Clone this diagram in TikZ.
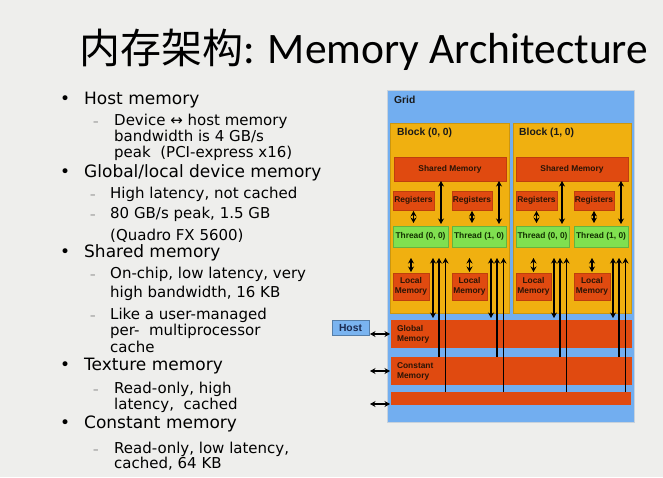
\documentclass[tikz,border=0pt]{standalone}
\usepackage{fontspec}
\setmainfont{DejaVu Sans}
\newfontfamily\titlefont{Carlito}
\newfontfamily\cjk{Noto Sans CJK SC}
\newfontfamily\diag{Liberation Sans}
\usetikzlibrary{arrows.meta}
\definecolor{bg}{HTML}{EEEEEC}
\definecolor{gridblue}{HTML}{72AEF0}
\definecolor{gridedge}{HTML}{C8D2DC}
\definecolor{blockor}{HTML}{F0B010}
\definecolor{memred}{HTML}{E04A10}
\definecolor{thrgreen}{HTML}{80E050}
\definecolor{hostblue}{HTML}{7AB4F0}
\definecolor{darktxt}{HTML}{2A1406}
\definecolor{greentxt}{HTML}{123000}
\definecolor{hosttxt}{HTML}{1A2A50}
\tikzset{
  box/.style={inner sep=0pt, outer sep=0pt, anchor=north west, font=\diag\bfseries\fontsize{8.4}{10}\selectfont, text=darktxt, align=center},
  memcell/.style={box, fill=memred, draw=memred!85!black, line width=0.4pt},
  thrcell/.style={box, fill=thrgreen, draw=thrgreen!80!black, line width=0.4pt, text=greentxt},
  bigmem/.style={box, fill=memred, align=left, text width=229pt, inner xsep=6pt},
  lbl/.style={inner sep=0pt, anchor=base west, font=\diag\bfseries\fontsize{10.3}{12}\selectfont, text=black!90},
  main/.style={inner sep=0pt, anchor=base west, font=\fontsize{17}{20}\selectfont},
  sub/.style={inner sep=0pt, anchor=base west, font=\fontsize{15}{18}\selectfont},
  bul/.style={inner sep=0pt, anchor=base west, font=\fontsize{17}{20}\selectfont},
  dsh/.style={inner sep=0pt, anchor=base west, font=\fontsize{11}{12}\selectfont, text=black!55},
  dbl/.style={{Stealth[length=5.5pt,width=6pt]}-{Stealth[length=5.5pt,width=6pt]}, line width=1.4pt, black},
  upar/.style={{Stealth[length=5.5pt,width=6pt]}-, line width=1.4pt, black},
}
\begin{document}
\begin{tikzpicture}[x=1pt,y=-1pt]
\fill[bg] (0,0) rectangle (663,477);
% title
\node[inner sep=0pt, anchor=base west, font=\titlefont\fontsize{43.5}{48}\selectfont] (title) at (79,63) {{\cjk\fontsize{41}{46}\selectfont 内存架构}: Memory Architecture};
% left text
\node[bul] (b1) at (60,104) {•};
\node[main] (t1) at (84,104) {Host memory};
\node[dsh] (d1) at (93,125) {–};
\node[sub] (t2) at (114,125) {Device ↔ host memory};
\node[sub] (t3) at (114,141) {bandwidth is 4 GB/s};
\node[sub] (t4) at (114,157) {peak\ \ (PCI-express x16)};
\node[bul] (b2) at (60,177) {•};
\node[main] (t5) at (84,177) {Global/local device memory};
\node[dsh] (d2) at (90,198) {–};
\node[sub] (t6) at (110,198) {High latency, not cached};
\node[dsh] (d3) at (90,218) {–};
\node[sub] (t7) at (110,218) {80 GB/s peak, 1.5 GB};
\node[sub] (t8) at (110,240) {(Quadro FX 5600)};
\node[bul] (b3) at (60,257) {•};
\node[main] (t9) at (84,257) {Shared memory};
\node[dsh] (d4) at (90,278) {–};
\node[sub] (t10) at (110,278) {On-chip, low latency, very};
\node[sub] (t11) at (110,297) {high bandwidth, 16 KB};
\node[dsh] (d5) at (90,319) {–};
\node[sub] (t12) at (110,319) {Like a user-managed};
\node[sub] (t13) at (110,335) {per-\ \ multiprocessor};
\node[sub] (t14) at (110,352) {cache};
\node[bul] (b4) at (60,370) {•};
\node[main] (t15) at (84,370) {Texture memory};
\node[dsh] (d6) at (93,393) {–};
\node[sub] (t16) at (114,393) {Read-only, high};
\node[sub] (t17) at (114,409) {latency,\ \ cached};
\node[bul] (b5) at (60,428) {•};
\node[main] (t18) at (84,428) {Constant memory};
\node[dsh] (d7) at (93,453) {–};
\node[sub] (t19) at (114,453) {Read-only, low latency,};
\node[sub] (t20) at (114,468) {cached, 64 KB};
% grid
\node[box, fill=gridblue, draw=gridedge, line width=0.8pt, minimum width=247pt, minimum height=332pt] (grid) at (387,90) {};
\node[lbl] (gridl) at (394,103) {Grid};
% blocks
\node[box, fill=blockor, draw=blockor!85!black, line width=0.3pt, minimum width=119pt, minimum height=190pt] (blk0) at (390,123) {};
\node[box, fill=blockor, draw=blockor!85!black, line width=0.3pt, minimum width=118pt, minimum height=190pt] (blk1) at (513,123) {};
\node[lbl] (blk0l) at (397,135) {Block (0, 0)};
\node[lbl] (blk1l) at (519,135) {Block (1, 0)};
% shared memory
\node[memcell, minimum width=112pt, minimum height=24pt] (sm0) at (394,157) {Shared Memory};
\node[memcell, minimum width=112pt, minimum height=24pt] (sm1) at (516,157) {Shared Memory};
% registers
\node[memcell, minimum width=41pt, minimum height=19pt] (reg00) at (393,191) {Registers};
\node[memcell, minimum width=40pt, minimum height=19pt] (reg10) at (452,191) {Registers};
\node[memcell, minimum width=41pt, minimum height=19pt] (reg01) at (516,191) {Registers};
\node[memcell, minimum width=40pt, minimum height=19pt] (reg11) at (574,191) {Registers};
% threads
\node[thrcell, minimum width=55pt, minimum height=21pt] (thr00) at (393,226) {Thread (0, 0)};
\node[thrcell, minimum width=54pt, minimum height=21pt] (thr10) at (452,226) {Thread (1, 0)};
\node[thrcell, minimum width=53pt, minimum height=21pt] (thr01) at (516,226) {Thread (0, 0)};
\node[thrcell, minimum width=54pt, minimum height=21pt] (thr11) at (574,226) {Thread (1, 0)};
% local memory
\node[memcell, minimum width=36pt, minimum height=27pt] (loc00) at (393,273) {Local\\Memory};
\node[memcell, minimum width=35pt, minimum height=27pt] (loc10) at (452,273) {Local\\Memory};
\node[memcell, minimum width=35pt, minimum height=27pt] (loc01) at (516,273) {Local\\Memory};
\node[memcell, minimum width=36pt, minimum height=27pt] (loc11) at (574,273) {Local\\Memory};
% device memories
\node[bigmem, minimum height=28pt] (glob) at (391,320) {Global\\Memory};
\node[bigmem, minimum height=28pt] (const) at (391,357) {Constant\\Memory};
\node[box, fill=memred, minimum width=240pt, minimum height=13pt] (tex) at (391,392) {};
% host
\node[box, fill=hostblue, draw=hostblue!70!black, line width=0.5pt, minimum width=37pt, minimum height=15pt, font=\diag\bfseries\fontsize{10.3}{12}\selectfont, text=hosttxt] (host) at (332,320) {Host};
% arrows inside blocks
\foreach \r/\t/\s/\l in {reg00/thr00/sm0/loc00, reg10/thr10/sm0/loc10, reg01/thr01/sm1/loc01, reg11/thr11/sm1/loc11}{
  \draw[dbl, shorten <=1pt, shorten >=3pt] (\r.south) -- (\r.south |- \t.north);
  \draw[dbl, shorten <=2pt] ([xshift=-7pt]\t.north east) -- ([xshift=-7pt]\t.north east |- \s.south);
  \draw[dbl, shorten <=11pt, shorten >=1pt] (\l.north |- \t.south) -- (\l.north);
  \draw[dbl, shorten <=11pt, shorten >=2pt] ([xshift=-15pt]\t.south east) -- ([xshift=-15pt]\t.south east |- glob.north);
  \draw[upar, shorten <=11pt] ([xshift=-9pt]\t.south east) -- ([xshift=-9pt]\t.south east |- const.north);
  \draw[upar, shorten <=11pt] ([xshift=-2.5pt]\t.south east) -- ([xshift=-2.5pt]\t.south east |- tex.north);
}
% host arrows
\draw[dbl, shorten <=1pt, shorten >=1pt] (host.east |- glob.west) -- (glob.west);
\draw[dbl, shorten <=1pt, shorten >=1pt] (host.east |- const.west) -- (const.west);
\draw[dbl, shorten <=1pt, shorten >=1pt] ([yshift=1pt]host.east |- tex.south west) -- ([yshift=1pt]tex.south west);
\end{tikzpicture}
\end{document}
